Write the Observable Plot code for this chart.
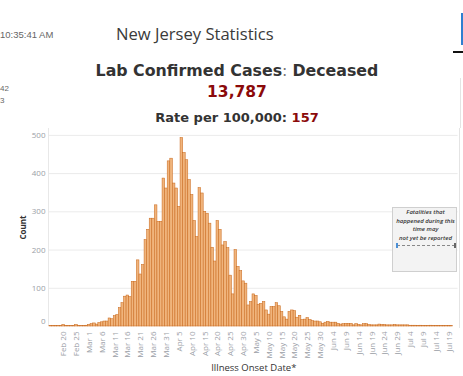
<!DOCTYPE html>
<html><head><meta charset="utf-8">
<script src="https://cdn.jsdelivr.net/npm/d3@7"></script>
<script src="https://cdn.jsdelivr.net/npm/@observablehq/plot@0.6"></script>
<style>
html,body{margin:0;padding:0;background:#fff;}
#wrap{position:relative;width:463px;height:376px;overflow:hidden;font-family:"Open Sans",sans-serif;}
.abs{position:absolute;white-space:nowrap;}
#time{left:0;top:29px;font-family:"Liberation Sans",Arial,sans-serif;font-size:9.5px;color:#666;}
#nj{left:116px;top:22px;font-size:16.6px;color:#3a3a3a;}
.head{left:0;width:474px;text-align:center;font-family:"DejaVu Sans",sans-serif;font-weight:bold;color:#333;}
#h1{top:61px;font-size:15.8px;}
#h1 .colon{font-weight:normal;color:#777;}
#h2{top:83px;font-size:15.5px;color:#8b0a0a;}
#h3{top:110px;font-size:13px;}
.red{color:#8b0a0a;}
#chart{position:absolute;left:0;top:125px;}
#lframe{position:absolute;left:48px;top:128px;width:1px;height:198px;background:#e8e8e8;}
#rframe{position:absolute;left:459px;top:128px;width:1px;height:200px;background:#e4e4e4;}
#note{position:absolute;left:392px;top:207px;width:65px;height:65px;background:#f3f3f3;border:1px solid #cfcfcf;box-sizing:border-box;}
#notetext{position:absolute;left:0;top:0px;width:65px;text-align:center;font-size:6px;font-style:italic;font-weight:600;line-height:8.7px;color:#333;}
#dash{position:absolute;left:4px;top:37px;width:58px;height:0;border-top:1px dashed #888;}
#tl{position:absolute;left:3px;top:35px;width:1.5px;height:5px;background:#4a8fd6;}
#tr{position:absolute;left:61px;top:35px;width:1.5px;height:5px;background:#666;}
.side{position:absolute;font-size:8px;color:#666;font-family:'Liberation Sans',sans-serif;left:0;}
</style></head>
<body><div id="wrap">
<div class="abs" id="time">10:35:41 AM</div>
<div class="abs" id="nj">New Jersey Statistics</div>
<div class="side" style="top:84px;">42</div>
<div class="side" style="top:96px;">3</div>
<div style="position:absolute;left:461px;top:13px;width:2px;height:32px;background:#2f7fd0;"></div>
<div style="position:absolute;left:453px;top:51px;width:10px;height:2px;background:#111;"></div>
<div style="position:absolute;left:460px;top:78px;width:1px;height:50px;background:#e4e4e4;"></div>
<div class="abs head" id="h1">Lab Confirmed Cases<span class="colon">: </span>Deceased</div>
<div class="abs head" id="h2">13,787</div>
<div class="abs head" id="h3">Rate per 100,000: <span class="red">157</span></div>
<div id="lframe"></div>
<div id="rframe"></div>
<div id="chart"></div>
<div id="note"><div id="notetext">Fatalities that<br>happened during this<br>time may<br>not yet be reported</div>
<div id="dash"></div><div id="tl"></div><div id="tr"></div></div>
</div>
<script>
// Daily deceased counts by illness onset date (2020)
const febStart = "2020-02-15";
const febCounts = [1,1,1,1,1,4,1,1,1,1,4,1,1,1,2]; // Feb 15–29
const marCounts = [4,6,8,5,9,11,13,13,21,19,27,30,48,61,78,81,77,117,117,173,136,161,226,253,282,282,317,274,274,387,361];
const aprCounts = [432,439,374,361,313,493,454,435,383,344,276,234,362,348,300,295,269,206,170,276,253,212,221,205,133,84,200,156,145,118];
const mayCounts = [112,55,64,84,80,57,59,64,42,31,51,51,61,53,38,24,18,38,42,40,23,28,17,18,22,17,14,13,13,11,7];
const junCounts = [10,12,10,10,10,7,5,6,7,7,7,3,6,4,3,6,6,4,3,3,3,5,4,4,3,3,3,4,3,3];
const julCounts = [3,3,3,2,2,2,1,2,1,1,1,2,1,1,1,1,1,1,1,1,0,0]; // Jul 1–22
const yTicks = [100,200,300,400,500];
const yZeroTick = [0];
const firstTick = "2020-02-20", tickStepDays = 5, lastTick = "2020-07-20";

const months = [[febStart, febCounts],["2020-03-01", marCounts],["2020-04-01", aprCounts],
  ["2020-05-01", mayCounts],["2020-06-01", junCounts],["2020-07-01", julCounts]];
const data = [];
for (const [s, arr] of months) {
  const start = new Date(s + "T00:00:00Z");
  arr.forEach((v, i) => data.push({date: d3.utcDay.offset(start, i), count: v}));
}
const domain = data.map(d => d.date);
const xTicks = d3.utcDay.range(new Date(firstTick + "T00:00:00Z"), new Date(lastTick + "T00:00:00Z"), tickStepDays);

const chart = Plot.plot({
  width: 463, height: 251,
  marginLeft: 49, marginRight: 5.4, marginTop: 3, marginBottom: 50,
  style: {fontFamily: "'Open Sans', sans-serif", background: "transparent", overflow: "visible"},
  x: {type: "band", domain, padding: 0},
  y: {domain: [0, 518]},
  marks: [
    Plot.gridY(yTicks, {stroke: "#ebebeb", strokeOpacity: 1}),
    Plot.barY(data, {x: "date", y: "count", fill: "#f0b47c", stroke: "#cb6d22", strokeWidth: 0.55}),
    Plot.axisY({ticks: yTicks, tickSize: 0, tickPadding: 4, fontSize: 8, fill: "#9a9ea6", label: null}),
    Plot.axisY({ticks: yZeroTick, tickSize: 0, tickPadding: 4, dy: -5, fontSize: 8, fill: "#9a9ea6", label: null}),
    Plot.axisY({ticks: [], label: "Count", labelArrow: "none", labelAnchor: "center", labelOffset: 29, fontSize: 8, fontWeight: "bold", fill: "#333"}),
    Plot.axisX({ticks: xTicks, tickFormat: d3.utcFormat("%b %-d"), tickRotate: -90, tickSize: 0, tickPadding: 5, fontSize: 8, fill: "#9a9ea6", label: null}),
    Plot.axisX({ticks: [], label: "Illness Onset Date*", labelArrow: "none", labelAnchor: "center", labelOffset: 44, fontSize: 9.5, fill: "#333"})
  ]
});
document.getElementById("chart").appendChild(chart);
</script>
</body></html>
